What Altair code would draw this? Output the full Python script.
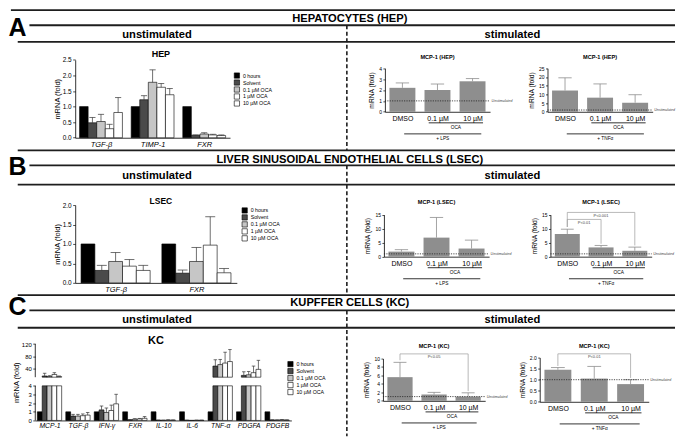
import json
import altair as alt
import pandas as pd

# ---------------- values ----------------
CONDITIONS = ["0 hours", "Solvent", "0.1 µM OCA", "1 µM OCA", "10 µM OCA"]

HEP_GENES = ["TGF-β", "TIMP-1", "FXR"]
HEP_MEAN = [[1.00, 0.48, 0.52, 0.29, 0.81],
            [1.00, 1.22, 1.78, 1.62, 1.38],
            [1.00, 0.08, 0.12, 0.09, 0.07]]
HEP_ERR = [[0, 0.17, 0.23, 0.14, 0.48],
           [0, 0.13, 0.40, 0.12, 0.20],
           [0, 0.01, 0.04, 0.02, 0.02]]

LSEC_GENES = ["TGF-β", "FXR"]
LSEC_MEAN = [[1.00, 0.32, 0.55, 0.43, 0.32],
             [1.00, 0.25, 0.55, 0.97, 0.26]]
LSEC_ERR = [[0, 0.13, 0.23, 0.17, 0.13],
            [0, 0.08, 0.36, 0.73, 0.11]]

KC_GENES = ["MCP-1", "TGF-β", "IFN-γ", "FXR", "IL-10", "IL-6", "TNF-α", "PDGFA", "PDGFB"]
KC_MEAN = [[1.0, 14, 12, 19, 12],
           [1.0, 0.50, 0.50, 0.55, 0.62],
           [1.0, 1.22, 0.92, 1.15, 1.92],
           [1.0, 0.08, 0.15, 0.18, 0.25],
           [1.0, 0.03, 0.02, 0.05, 0.04],
           [1.0, 0.02, 0.01, 0.02, 0.02],
           [1.0, 47, 52, 57, 62],
           [1.0, 16, 18, 25, 36],
           [1.0, 0.06, 0.05, 0.08, 0.05]]
KC_ERR = [[0, 9, 3, 6, 2],
          [0, 0.20, 0.20, 0.20, 0.30],
          [0, 0.45, 0.52, 0.62, 1.10],
          [0, 0.02, 0.05, 0.05, 0.20],
          [0, 0.01, 0.01, 0.02, 0.01],
          [0, 0.01, 0.0, 0.01, 0.01],
          [0, 21, 17, 36, 40],
          [0, 12, 11, 22, 30],
          [0, 0.01, 0.01, 0.02, 0.01]]

TREATMENTS = ["DMSO", "0.1 µM", "10 µM"]
HEP_LPS_MEAN = [2.2, 2.0, 2.8]
HEP_LPS_ERR = [0.45, 0.55, 0.25]
HEP_TNF_MEAN = [12.2, 8.1, 5.2]
HEP_TNF_ERR = [7.3, 7.9, 4.6]
LSEC_LPS_MEAN = [1.8, 6.8, 2.9]
LSEC_LPS_ERR = [0.7, 7.2, 3.0]
LSEC_TNF_MEAN = [8.1, 3.3, 2.1]
LSEC_TNF_ERR = [1.7, 0.7, 1.3]
KC_LPS_MEAN = [5.6, 1.5, 1.0]
KC_LPS_ERR = [3.5, 0.5, 0.9]
KC_TNF_MEAN = [1.45, 1.05, 0.80]
KC_TNF_ERR = [0.10, 0.55, 0.20]
UNSTIMULATED_LEVEL = 1.0

# significance brackets: (from, to, height, drop at from, drop at to, label)
LSEC_TNF_BRACKETS = [(0, 2, 15.8, 10.6, 4.0, "P<0.001"), (0, 1, 13.3, 10.6, 4.6, "P<0.01")]
KC_LPS_BRACKETS = [(0, 2, 11.1, 9.6, 2.3, "P<0.05")]
KC_TNF_BRACKETS = [(0, 2, 2.17, 1.62, 1.08, "P<0.01")]

SECTION_TITLES = ["HEPATOCYTES (HEP)", "LIVER SINUSOIDAL ENDOTHELIAL CELLS (LSEC)", "KUPFFER CELLS (KC)"]
SECTION_LETTERS = ["A", "B", "C"]

# ---------------- styles / layout ----------------
COND_FILL = ["#000000", "#4a4a4a", "#c6c6c6", "#ffffff", "#ffffff"]
BAR_GRAY = "#8e8e8e"
ERR_GRAY = "#8e8e8e"
BRK_GRAY = "#9a9a9a"
FONT = "Liberation Sans"

SX = 669 / 685
SY = 429 / 445
COL_EDGES = [0, 345, 515, 685]
ROW_EDGES = [0, 148, 298, 445]
CW = [round((COL_EDGES[i + 1] - COL_EDGES[i]) * SX, 2) for i in range(3)]
RH = [round((ROW_EDGES[i + 1] - ROW_EDGES[i]) * SY, 2) for i in range(3)]
ONE = pd.DataFrame({"k": [0]})


def lx(x, c):
    return round((x - COL_EDGES[c]) * SX, 2)


def ly(y, r):
    return round((y - ROW_EDGES[r]) * SY, 2)


def label_expr(names):
    return json.dumps(names, ensure_ascii=False) + "[datum.value]"


def text_mark(s, x, y, size, weight="normal", style="normal", align="center",
              baseline="middle", color="#000"):
    return alt.Chart(ONE).mark_text(
        text=s, font=FONT, fontSize=size, fontWeight=weight, fontStyle=style,
        align=align, baseline=baseline, color=color
    ).encode(x=alt.value(x), y=alt.value(y))


def hrule(xa, xb, y, width=0.8, color="#000"):
    return alt.Chart(ONE).mark_rule(color=color, strokeWidth=width).encode(
        x=alt.value(xa), x2=alt.value(xb), y=alt.value(y))


def vrule(x, ya, yb, width=0.8, color="#000", dash=None):
    kw = dict(color=color, strokeWidth=width)
    if dash:
        kw["strokeDash"] = dash
    return alt.Chart(ONE).mark_rule(**kw).encode(
        x=alt.value(x), y=alt.value(ya), y2=alt.value(yb))


# section bands: top line, title, letter line, sub label, sub line, letter baseline
SECTION_Y = [
    (1.5, 10.3, 17.3, 27.0, 34.5, 28.3),
    (147.5, 157.0, 163.0, 174.0, 183.0, 173.3),
    (298.0, 306.5, 314.0, 323.5, 332.0, 318.5),
]


def decor_layers():
    layers = []
    for k, (top, ty, lline, sub, sline, lbase) in enumerate(SECTION_Y):
        layers.append(hrule(lx(3 if k == 0 else 10, 0), lx(685, 0), ly(top, 0), 1.8, "#1e1e1e"))
        layers.append(hrule(lx(22, 0), lx(685, 0), ly(lline, 0), 1.8, "#1e1e1e"))
        layers.append(hrule(lx(10, 0), lx(685, 0), ly(sline, 0), 1.8, "#1e1e1e"))
        layers.append(text_mark(SECTION_TITLES[k], lx(351, 0), ly(ty, 0), 11.2, "bold"))
        layers.append(text_mark(SECTION_LETTERS[k], lx(0.5, 0), ly(lbase, 0), 25, "bold",
                                align="left", baseline="alphabetic"))
        layers.append(text_mark("unstimulated", lx(153, 0), ly(sub, 0), 11.2, "bold"))
        layers.append(text_mark("stimulated", lx(518, 0), ly(sub, 0), 11.2, "bold"))
        end = SECTION_Y[k + 1][0] if k < 2 else ROW_EDGES[-1]
        layers.append(vrule(lx(348, 0), ly(lline, 0), ly(end, 0), 1.6, "#1e1e1e", dash=[4, 2.5]))
    return layers


def unstim_layers(r, c, genes, means, errs, box, bw, ydom, yrng, yticks, yfmt,
                  title, title_xy, title_size, legend_xy, label_size, tick_size,
                  title_pad, broken=False):
    x0, x1, yb = box
    n = len(genes)
    H = RH[r]
    rows = []
    for gi, g in enumerate(genes):
        for ci, cn in enumerate(CONDITIONS):
            rows.append({"gene": g, "gi": gi, "cond": cn, "ci": ci,
                         "v": means[gi][ci], "e": errs[gi][ci]})
    df = pd.DataFrame(rows)
    mid = (len(CONDITIONS) - 1) / 2
    xs = alt.Scale(domain=[-0.5, n - 0.5], range=[lx(x0, c), lx(x1, c)], nice=False, zero=False)
    ys = alt.Scale(domain=ydom, range=[ly(v, r) for v in yrng], nice=False, zero=False)
    xax = alt.Axis(values=list(range(n)), labelExpr=label_expr(genes), ticks=False, grid=False,
                   title=None, labelFontSize=label_size, labelFontStyle="italic", labelPadding=2.5,
                   labelFlush=False, labelOverlap=False, domainWidth=0.8,
                   offset=round(ly(yb, r) - H, 2))
    yax = alt.Axis(values=yticks, format=yfmt, grid=False, title="mRNA (fold)",
                   titleFontSize=7.5, titleFontWeight="normal", titlePadding=title_pad,
                   labelFontSize=tick_size, labelPadding=1.5, tickSize=2.5, tickWidth=0.7,
                   domain=not broken, domainWidth=0.8, labelFlush=False, labelOverlap=False,
                   offset=-lx(x0, c))

    def X(f):
        return alt.X(f, type="quantitative", scale=xs, axis=xax)

    def Y(f):
        return alt.Y(f, type="quantitative", scale=ys, axis=yax)

    legend = alt.Legend(title=None, orient="none", legendX=lx(legend_xy[0], c),
                        legendY=ly(legend_xy[1], r), symbolType="square", symbolSize=28,
                        symbolStrokeColor="#000", symbolStrokeWidth=0.6, labelFontSize=5.3,
                        labelFont=FONT, rowPadding=-1.0, labelOffset=3, padding=0)
    color = alt.Color("cond:N", scale=alt.Scale(domain=CONDITIONS, range=COND_FILL), legend=legend)
    base = alt.Chart(df).transform_calculate(
        xc=f"datum.gi + (datum.ci - {mid}) * {bw}"
    ).transform_calculate(
        xl=f"datum.xc - {bw / 2}", xr=f"datum.xc + {bw / 2}",
        cl=f"datum.xc - {bw * 0.36}", cr=f"datum.xc + {bw * 0.36}",
        top="datum.v + datum.e", zero="0")
    bar_kw = dict(stroke="#000", strokeWidth=0.6)
    err_kw = dict(color="#333333", strokeWidth=0.7)
    layers = []
    if not broken:
        layers.append(base.mark_rect(**bar_kw).encode(x=X("xl"), x2="xr", y=Y("v"), y2="zero", color=color))
        has = base.transform_filter("datum.e > 0")
        layers.append(has.mark_rule(**err_kw).encode(x=X("xc"), y=Y("v"), y2="top"))
        layers.append(has.mark_rule(**err_kw).encode(x=X("cl"), x2="cr", y=Y("top")))
    else:
        lo_max, hi_min = ydom[1], ydom[2]
        b2 = base.transform_calculate(
            lt=f"min(datum.v, {lo_max})", ltop=f"min(datum.top, {lo_max})",
            ulo=f"max(datum.v, {hi_min})", umin=f"{hi_min}")
        layers.append(b2.mark_rect(**bar_kw).encode(x=X("xl"), x2="xr", y=Y("lt"), y2="zero", color=color))
        layers.append(b2.transform_filter(f"datum.v > {hi_min}").mark_rect(**bar_kw).encode(
            x=X("xl"), x2="xr", y=Y("v"), y2="umin", color=color))
        e_lo = b2.transform_filter(f"datum.e > 0 && datum.v < {lo_max}")
        layers.append(e_lo.mark_rule(**err_kw).encode(x=X("xc"), y=Y("v"), y2="ltop"))
        layers.append(e_lo.transform_filter(f"datum.top <= {lo_max}").mark_rule(**err_kw).encode(
            x=X("cl"), x2="cr", y=Y("top")))
        e_hi = b2.transform_filter(f"datum.e > 0 && datum.top > {hi_min}")
        layers.append(e_hi.mark_rule(**err_kw).encode(x=X("xc"), y=Y("ulo"), y2="top"))
        layers.append(e_hi.mark_rule(**err_kw).encode(x=X("cl"), x2="cr", y=Y("top")))
        segs = pd.DataFrame({"lo": [ydom[0], ydom[2]], "hi": [ydom[1], ydom[3]]})
        layers.append(alt.Chart(segs).mark_rule(color="#000", strokeWidth=0.8).encode(
            x=alt.value(lx(x0, c)), y=Y("lo"), y2="hi"))
    layers.append(text_mark(title, lx(title_xy[0], c), ly(title_xy[1], r), title_size, "bold"))
    return layers


def stim_chart(r, c, means, errs, box, yticks, yfmt, title, title_y, stim_label, brackets=()):
    x0, x1, yb, yt, ymax = box
    H = RH[r]
    n = len(TREATMENTS)
    df = pd.DataFrame({"treatment": TREATMENTS, "i": list(range(n)), "v": means, "e": errs})
    xs = alt.Scale(domain=[-0.5, n - 0.5], range=[lx(x0, c), lx(x1, c)], nice=False, zero=False)
    ys = alt.Scale(domain=[0, ymax], range=[ly(yb, r), ly(yt, r)], nice=False, zero=False)
    xax = alt.Axis(values=list(range(n)), labelExpr=label_expr(TREATMENTS), ticks=False, grid=False,
                   title=None, labelFontSize=7, labelPadding=2.5, labelFlush=False,
                   labelOverlap=False, domainWidth=0.8, offset=round(ly(yb, r) - H, 2))
    yax = alt.Axis(values=yticks, format=yfmt, grid=False, title="mRNA (fold)", titleFontSize=6.7,
                   titleFontWeight="normal", titlePadding=4, labelFontSize=5, labelPadding=1.5,
                   tickSize=2, tickWidth=0.7, domainWidth=0.8, labelFlush=False,
                   labelOverlap=False, offset=-lx(x0, c))

    def X(f):
        return alt.X(f, type="quantitative", scale=xs, axis=xax)

    def Y(f):
        return alt.Y(f, type="quantitative", scale=ys, axis=yax)

    base = alt.Chart(df).transform_calculate(
        xl="datum.i - 0.37", xr="datum.i + 0.37", cl="datum.i - 0.19", cr="datum.i + 0.19",
        top="datum.v + datum.e", zero="0")
    layers = [
        base.mark_rect(color=BAR_GRAY).encode(x=X("xl"), x2="xr", y=Y("v"), y2="zero"),
        base.mark_rule(color=ERR_GRAY, strokeWidth=0.8).encode(x=X("i"), y=Y("v"), y2="top"),
        base.mark_rule(color=ERR_GRAY, strokeWidth=0.8).encode(x=X("cl"), x2="cr", y=Y("top")),
    ]
    lvl = pd.DataFrame({"level": [UNSTIMULATED_LEVEL]})
    layers.append(alt.Chart(lvl).mark_rule(color="#222", strokeWidth=0.8, strokeDash=[1.2, 1.2]).encode(
        x=alt.value(lx(x0, c)), x2=alt.value(lx(x1, c)), y=Y("level")))
    layers.append(alt.Chart(lvl).mark_text(text="Unstimulated", font=FONT, fontSize=3.6, fontStyle="italic",
                                          align="left", baseline="middle", color="#444").encode(
        x=alt.value(lx(x1, c) + 1.5), y=Y("level")))
    if brackets:
        seg_rows, lab_rows = [], []
        for a, b, h, da, db, lab in brackets:
            seg_rows += [{"xa": a, "xb": b, "ya": h, "yb": h},
                         {"xa": a, "xb": a, "ya": h, "yb": da},
                         {"xa": b, "xb": b, "ya": h, "yb": db}]
            lab_rows.append({"xm": (a + b) / 2, "h": h, "lab": lab})
        layers.append(alt.Chart(pd.DataFrame(seg_rows)).mark_rule(color=BRK_GRAY, strokeWidth=0.7).encode(
            x=X("xa"), x2="xb", y=Y("ya"), y2="yb"))
        layers.append(alt.Chart(pd.DataFrame(lab_rows)).mark_text(
            font=FONT, fontSize=4, baseline="top", dy=1.2, color="#444").encode(
            x=X("xm"), y=Y("h"), text="lab:N"))
    u = (x1 - x0) / n

    def px(t):
        return lx(x0 + (t + 0.5) * u, c)

    layers.append(hrule(px(0.75), px(2.3), ly(yb + 11.5, r), 0.8))
    layers.append(text_mark("OCA", (px(0.75) + px(2.3)) / 2, ly(yb + 16.5, r), 4.8))
    layers.append(hrule(px(0.05), px(2.25), ly(yb + 23, r), 0.8))
    layers.append(text_mark(stim_label, (px(0.05) + px(2.25)) / 2, ly(yb + 28.5, r), 4.8))
    layers.append(text_mark(title, lx((x0 + x1) / 2, c), ly(title_y, r), 5.6, "bold"))
    return alt.layer(*layers).properties(width=CW[c], height=RH[r])


hep = alt.layer(
    *unstim_layers(0, 0, HEP_GENES, HEP_MEAN, HEP_ERR, (69, 228, 134.3), 0.166,
                   [0, 2.5], [134.3, 53.3], [0, 0.5, 1.0, 1.5, 2.0, 2.5], ".1f",
                   "HEP", (157, 47), 9, (232, 66.5), 7.5, 6.5, 1),
    *decor_layers()
).properties(width=CW[0], height=RH[0])

lsec = alt.layer(
    *unstim_layers(1, 0, LSEC_GENES, LSEC_MEAN, LSEC_ERR, (69, 235, 285), 0.171,
                   [0, 2.0], [285, 204], [0, 0.5, 1.0, 1.5, 2.0], ".1f",
                   "LSEC", (157, 199.5), 8.5, (240, 206.5), 7.5, 6.5, 1)
).properties(width=CW[0], height=RH[1])

kc = alt.layer(
    *unstim_layers(2, 0, KC_GENES, KC_MEAN, KC_ERR, (28, 291, 427.7), 0.171,
                   [0, 4, 10, 120], [427.7, 391.7, 382.7, 348.3], [0, 1, 2, 3, 4, 40, 80, 120], "d",
                   "KC", (152, 345.5), 11, (287, 366), 6.8, 6, 1, broken=True)
).properties(width=CW[0], height=RH[2])

cells = [
    hep,
    stim_chart(0, 1, HEP_LPS_MEAN, HEP_LPS_ERR, (387, 495, 107.3, 62, 4), [0, 1, 2, 3, 4], "d",
               "MCP-1 (HEP)", 50.5, "+ LPS"),
    stim_chart(0, 2, HEP_TNF_MEAN, HEP_TNF_ERR, (553, 661, 107.3, 62, 25), [0, 5, 10, 15, 20, 25], "d",
               "MCP-1 (HEP)", 50.5, "+ TNFα"),
    lsec,
    stim_chart(1, 1, LSEC_LPS_MEAN, LSEC_LPS_ERR, (386, 494, 257.7, 214, 15), [0, 5, 10, 15], "d",
               "MCP-1 (LSEC)", 201, "+ LPS"),
    stim_chart(1, 2, LSEC_TNF_MEAN, LSEC_TNF_ERR, (556, 660, 257.7, 214, 15), [0, 5, 10, 15], "d",
               "MCP-1 (LSEC)", 201, "+ TNFα", LSEC_TNF_BRACKETS),
    kc,
    stim_chart(2, 1, KC_LPS_MEAN, KC_LPS_ERR, (385, 490, 407.3, 363.3, 10), [0, 2, 4, 6, 8, 10], "d",
               "MCP-1 (KC)", 350, "+ LPS", KC_LPS_BRACKETS),
    stim_chart(2, 2, KC_TNF_MEAN, KC_TNF_ERR, (545, 657, 408.3, 362.3, 2), [0, 0.5, 1.0, 1.5, 2.0], ".1f",
               "MCP-1 (KC)", 350, "+ TNFα", KC_TNF_BRACKETS),
]

chart = alt.concat(
    *cells, columns=3, spacing=0, bounds="flush", align="each"
).resolve_scale(
    color="independent"
).resolve_legend(
    color="independent"
).properties(
    padding=0, background="#ffffff"
).configure(
    font=FONT
).configure_view(
    stroke=None
).configure_axis(
    domainColor="#000", tickColor="#000", labelColor="#000", titleColor="#000",
    labelFont=FONT, titleFont=FONT, grid=False
).configure_legend(
    labelFont=FONT, labelColor="#000"
)

chart.save("out.html", embed_options={"renderer": "svg", "actions": False})
